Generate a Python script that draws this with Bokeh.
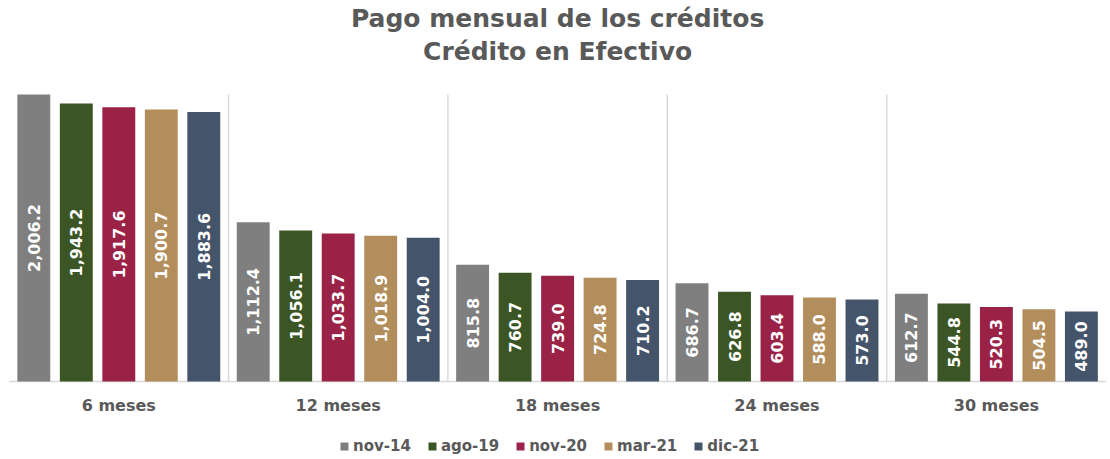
import math
from bokeh.plotting import figure
from bokeh.models import ColumnDataSource, Legend, LegendItem, Range1d
from bokeh.core.properties import value
from bokeh.embed import file_html
from bokeh.resources import INLINE

categories = ["6 meses", "12 meses", "18 meses", "24 meses", "30 meses"]
series = ["nov-14", "ago-19", "nov-20", "mar-21", "dic-21"]
nov14 = [2006.2, 1112.4, 815.8, 686.7, 612.7]
ago19 = [1943.2, 1056.1, 760.7, 626.8, 544.8]
nov20 = [1917.6, 1033.7, 739.0, 603.4, 520.3]
mar21 = [1900.7, 1018.9, 724.8, 588.0, 504.5]
dic21 = [1883.6, 1004.0, 710.2, 573.0, 489.0]
colors = ["#7f7f7f", "#3b5524", "#9b2247", "#b38e5d", "#44546a"]
title_lines = ["Pago mensual de los créditos", "Crédito en Efectivo"]

data = [nov14, ago19, nov20, mar21, dic21]
FONT = "DejaVu Sans"
GRAY = "#595959"
GRID = "#d9d9d9"

W, H = 1110, 459
BASE = 381          # canvas y of the baseline (px)
TOPV = 2006.2       # value reaching the top of the bar area
BAR_PX = 287        # px height of the bar area
k = BAR_PX / TOPV   # px per unit
X0 = 8.6            # canvas x of the left edge of the first group
GW = 219.4          # px per group


def yv(canvas_y):
    return (BASE - canvas_y) / k


p = figure(width=W, height=H, output_backend="svg", toolbar_location=None,
           x_range=Range1d(-X0 / GW, (W - X0) / GW), y_range=Range1d(yv(H), yv(0)),
           min_border_left=0, min_border_right=0, min_border_top=0, min_border_bottom=0)
p.outline_line_color = None
p.axis.visible = False
p.grid.visible = False
p.background_fill_color = "white"
p.border_fill_color = "white"

# separators and baseline
n = len(categories)
p.segment(x0=list(range(1, n)), x1=list(range(1, n)), y0=[0] * (n - 1),
          y1=[TOPV] * (n - 1), line_color=GRID, line_width=1.5)
p.segment(x0=[0], x1=[n], y0=[0], y1=[0], line_color=GRID, line_width=1.5)

step = 0.1937
bw = 0.150
renderers = []
for i, (name, vals, col) in enumerate(zip(series, data, colors)):
    xs = [g + 0.5 + (i - 2) * step for g in range(n)]
    src = ColumnDataSource(dict(x=xs, top=vals, mid=[v / 2 for v in vals],
                                lab=[f"{v:,.1f}" for v in vals]))
    r = p.vbar(x="x", top="top", width=bw, bottom=0, source=src, fill_color=col, line_color=None)
    renderers.append(r)
    p.text(x="x", y="mid", text="lab", source=src, angle=math.pi / 2,
           text_align="center", text_baseline="middle", text_color="white",
           text_font=value(FONT), text_font_style="bold", text_font_size="16px")

# category labels
p.text(x=[g + 0.5 for g in range(n)], y=[yv(405)] * n, text=categories,
       text_align="center", text_baseline="middle", text_color=GRAY,
       text_font=value(FONT), text_font_style="bold", text_font_size="16px")

# titles
p.text(x=[2.5, 2.5], y=[yv(18), yv(51)], text=title_lines,
       text_align="center", text_baseline="middle", text_color=GRAY,
       text_font=value(FONT), text_font_style="bold", text_font_size="25px")

legend = Legend(items=[LegendItem(label=s, renderers=[r]) for s, r in zip(series, renderers)],
                orientation="horizontal", location=(339, 4),
                label_text_font=FONT, label_text_font_style="bold", label_text_font_size="15px",
                label_text_color=GRAY, glyph_width=10, glyph_height=10, spacing=16,
                label_standoff=4, label_height=16, border_line_color=None,
                background_fill_alpha=0, padding=4, margin=0)
p.add_layout(legend, "center")

open("out.html", "w").write(file_html(p, INLINE))
